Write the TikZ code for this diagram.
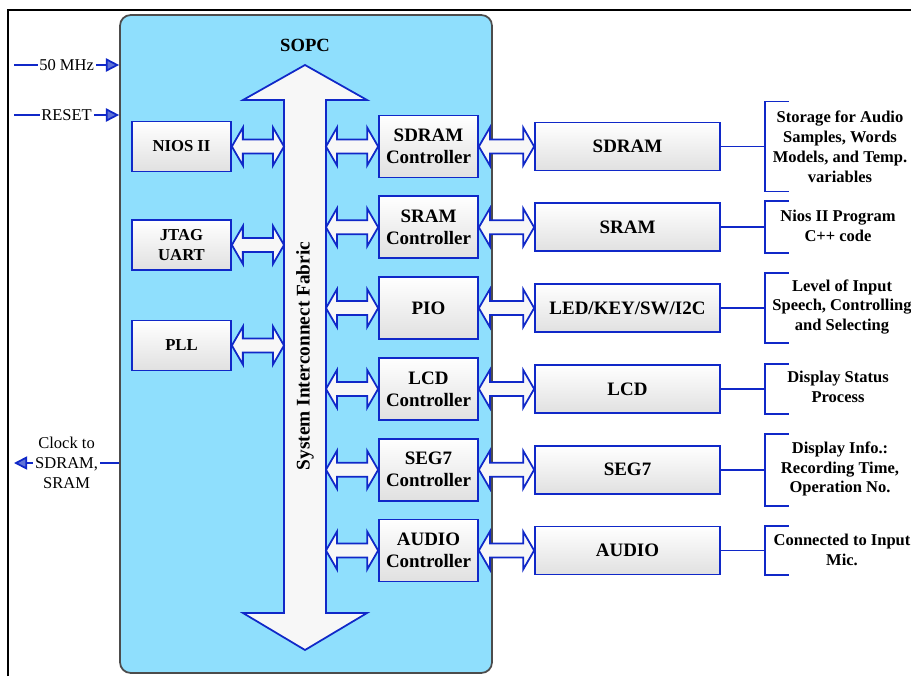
\documentclass[tikz,border=0pt]{standalone}
\usepackage{fontspec}
\setmainfont{Liberation Serif}
\usetikzlibrary{arrows.meta, positioning, calc}

\definecolor{sopcblue}{RGB}{143,223,253}
\definecolor{wireblue}{RGB}{16,40,200}
\definecolor{tipblue}{RGB}{95,115,215}

% fat double arrow between two points at the same height
\newcommand{\fatlink}[2]{%
  \draw[fatarrow] (#1) -- ++(11,-19) -- ++(0,12) -- ($(#2)+(-11,-7)$) -- ++(0,-12)
    -- (#2) -- ++(-11,19) -- ++(0,-12) -- ($(#1)+(11,7)$) -- ++(0,12) -- cycle;}
% bracket in front of a note
\newcommand{\notebrace}[3]{%
  \draw[wire] (#1.east) -- ++(44,0) coordinate (#2);
  \draw[wire] ($(#2)+(24,-#3)$) -- ++(-24,0) -- ++(0,2*#3) -- ++(24,0);}

\begin{document}
\begin{tikzpicture}[x=0.02cm, y=-0.02cm,
    wire/.style={draw=wireblue, line width=1.1pt},
    sig/.style={draw=wireblue, line width=1pt, -{Triangle[length=7.5pt,width=7.5pt,fill=tipblue]}},
    siglabel/.style={fill=white, text=black, inner sep=1pt, align=center, font=\fontsize{9.4}{11.3}\selectfont},
    fatarrow/.style={draw=wireblue, line width=1pt, fill=black!3},
    blk/.style={draw=wireblue, line width=1pt, top color=white, bottom color=black!12,
      align=center, inner sep=0pt, font=\bfseries\fontsize{10.8}{12.5}\selectfont},
    ctl/.style={blk, minimum width=1.98cm, minimum height=1.24cm},
    ext/.style={blk, minimum width=3.7cm, minimum height=0.96cm},
    cpu/.style={blk, minimum width=1.98cm, minimum height=1cm, font=\bfseries\fontsize{9.5}{11.5}\selectfont},
    note/.style={align=center, font=\bfseries\fontsize{9.4}{11.3}\selectfont}
  ]
  \useasboundingbox (0,0) rectangle (911,676);
  \draw[line width=1.7pt] (8,676) -- (8,10) -- (911,10);

  % SOPC
  \node[draw=black!70, line width=1pt, fill=sopcblue, rounded corners=6pt,
    minimum width=7.44cm, minimum height=13.16cm] (sopc) at (306,344) {};
  \node[font=\bfseries\fontsize{10.6}{12}\selectfont] (sopctitle) at (305,45) {SOPC};

  % bus
  \draw[fatarrow] (305,65) -- (367,100) -- (326,100) -- (326,613) -- (367,613) -- (305,650)
    -- (243,613) -- (284,613) -- (284,100) -- (243,100) -- cycle;
  \node[rotate=90, font=\bfseries\fontsize{11}{13}\selectfont] (fabric) at (305,356) {System Interconnect Fabric};
  \coordinate (busL) at (284,0);
  \coordinate (busR) at (326,0);

  % inputs and outputs
  \coordinate (clkin) at (14,65);
  \coordinate (rstin) at (14,115);
  \coordinate (clkout) at (14,463);
  \draw[sig] (clkin) -- node[siglabel] {50 MHz} (clkin -| sopc.west);
  \draw[sig] (rstin) -- node[siglabel] {RESET} (rstin -| sopc.west);
  \draw[sig] (clkout -| sopc.west) -- node[siglabel] {Clock to\\SDRAM,\\SRAM} (clkout);

  % cpu side
  \node[cpu] (nios) at (181.5,146.5) {NIOS II};
  \node[cpu] (jtag) at (181.5,245) {JTAG\\UART};
  \node[cpu] (pll) at (181.5,345.5) {PLL};
  \fatlink{nios.east}{nios.east -| busL}
  \fatlink{jtag.east}{jtag.east -| busL}
  \fatlink{pll.east}{pll.east -| busL}

  % controllers
  \node[ctl] (sdramc) at (428.5,146.5) {SDRAM\\Controller};
  \node[ctl] (sramc) at (428.5,227.3) {SRAM\\Controller};
  \node[ctl] (pio) at (428.5,308.1) {PIO};
  \node[ctl] (lcdc) at (428.5,388.9) {LCD\\Controller};
  \node[ctl] (segc) at (428.5,469.7) {SEG7\\Controller};
  \node[ctl] (audioc) at (428.5,550.5) {AUDIO\\Controller};

  % external parts
  \node[ext] (sdram) at (627.5,146.5) {SDRAM};
  \node[ext] (sram) at (627.5,227.3) {SRAM};
  \node[ext] (ledkey) at (627.5,308.1) {LED/KEY/SW/I2C};
  \node[ext] (lcd) at (627.5,388.9) {LCD};
  \node[ext] (seg) at (627.5,469.7) {SEG7};
  \node[ext] (audio) at (627.5,550.5) {AUDIO};

  \fatlink{sdramc.west -| busR}{sdramc.west}
  \fatlink{sramc.west -| busR}{sramc.west}
  \fatlink{pio.west -| busR}{pio.west}
  \fatlink{lcdc.west -| busR}{lcdc.west}
  \fatlink{segc.west -| busR}{segc.west}
  \fatlink{audioc.west -| busR}{audioc.west}

  \fatlink{sdramc.east}{sdram.west}
  \fatlink{sramc.east}{sram.west}
  \fatlink{pio.east}{ledkey.west}
  \fatlink{lcdc.east}{lcd.west}
  \fatlink{segc.east}{seg.west}
  \fatlink{audioc.east}{audio.west}

  % notes
  \notebrace{sdram}{br1}{45}
  \notebrace{sram}{br2}{26}
  \notebrace{ledkey}{br3}{35}
  \notebrace{lcd}{br4}{25}
  \notebrace{seg}{br5}{36}
  \notebrace{audio}{br6}{24.5}
  \node[note] (n1) at (840,146.5) {Storage for Audio\\Samples, Words\\Models, and Temp.\\variables};
  \node[note] (n2) at (838,226) {Nios II Program\\C++ code};
  \node[note] (n3) at (842,307) {Level of Input\\Speech, Controlling\\and Selecting};
  \node[note] (n4) at (838,387) {Display Status\\Process};
  \node[note] (n5) at (840,469) {Display Info.:\\Recording Time,\\Operation No.};
  \node[note] (n6) at (842,550) {Connected to Input\\Mic.};
\end{tikzpicture}
\end{document}
